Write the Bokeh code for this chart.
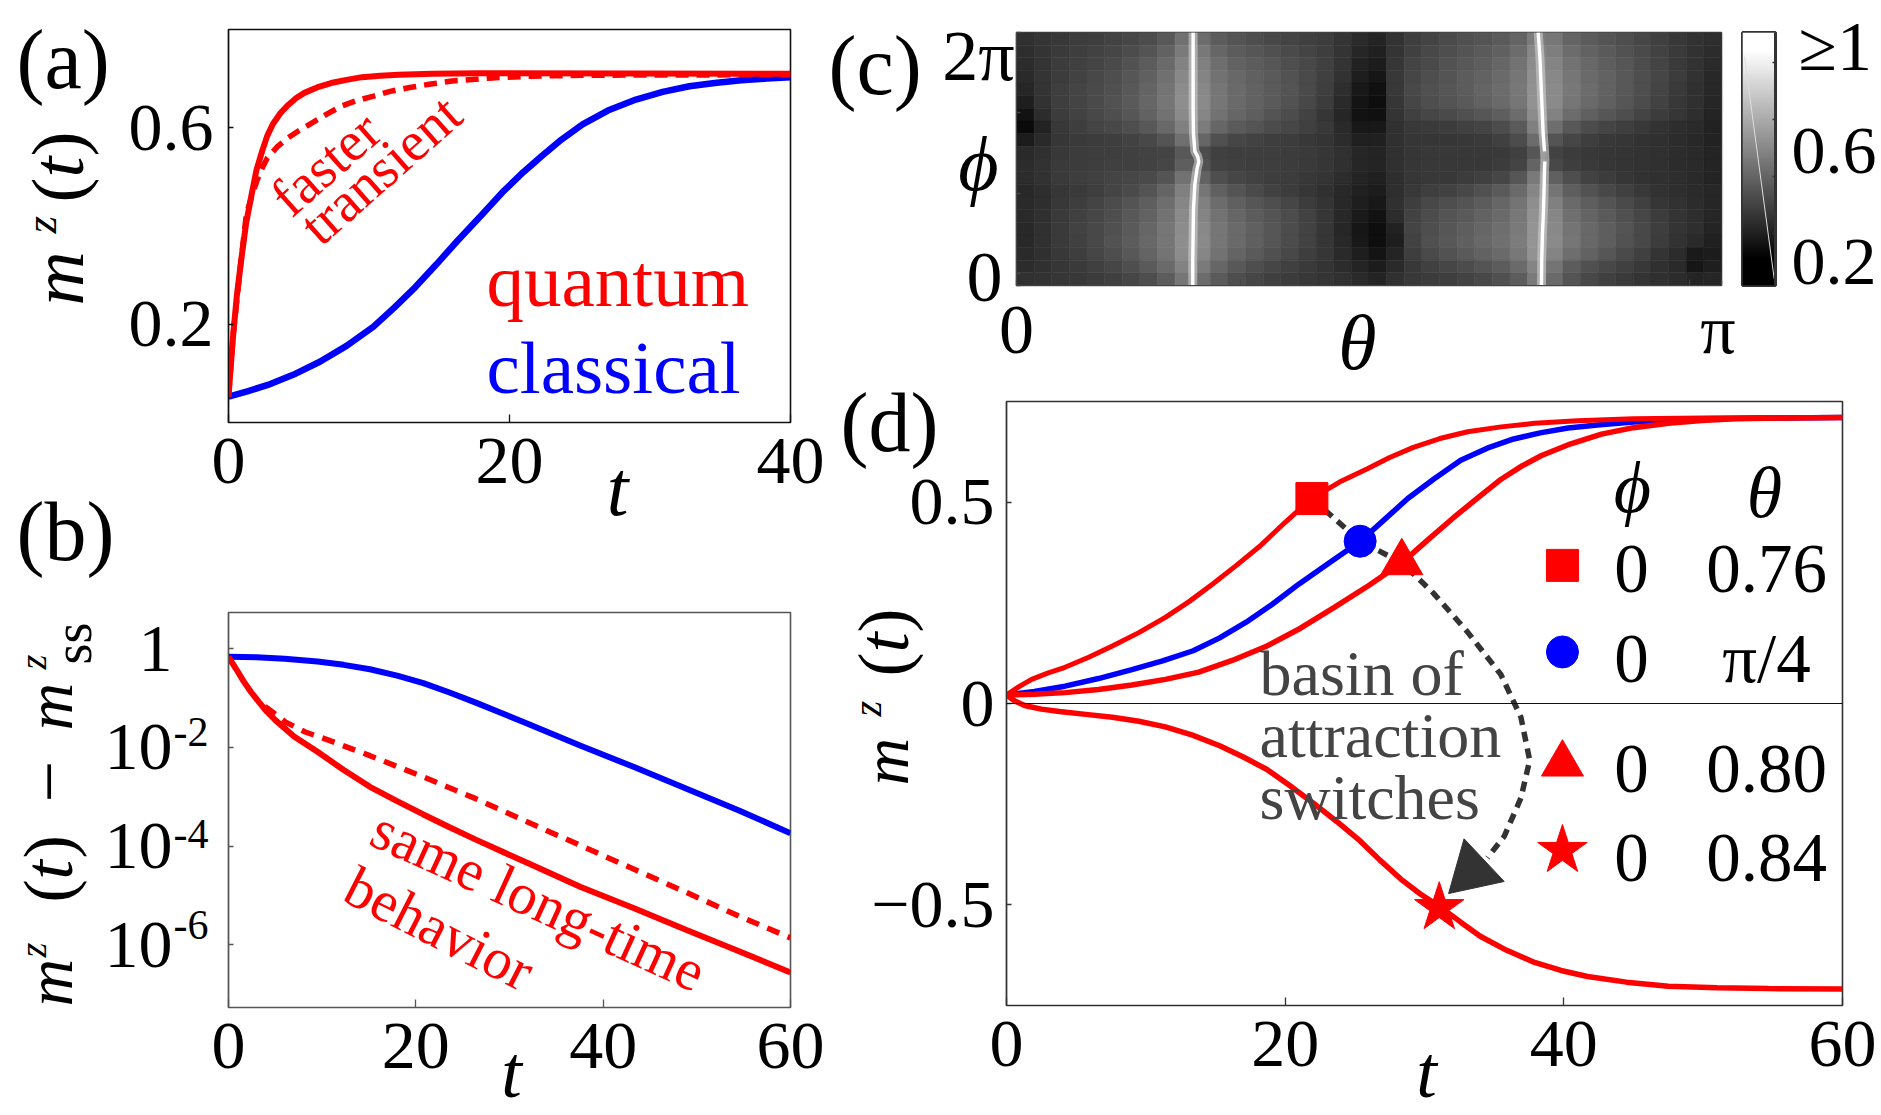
from bokeh.plotting import figure
from bokeh.layouts import row, column
from bokeh.models import Range1d, FixedTicker, Label, Span, LinearColorMapper, ColumnDataSource
from bokeh.embed import file_html
from bokeh.resources import INLINE
from bokeh.palettes import Greys256
import math
import numpy as np

RED = "#ff0000"; BLUE = "#0000ff"; SERIF = "Liberation Serif"

# panel (a)
a_red_t = [0, .15, .34, .6, .9, 1.25, 1.65, 2, 2.4, 2.75, 3.15, 3.7, 4.27, 4.8, 5.4, 6.3, 7.3, 8.3, 9.5, 10.8, 12.1, 14.5, 17.8, 40]
a_red_y = [.0527, .11, .181, .26, .330, .405, .465, .515, .553, .583, .607, .630, .647, .66, .671, .682, .691, .697, .703, .706, .708, .710, .711, .710]
a_dash_t = [0, .34, .9, 1.27, 1.65, 2.02, 2.4, 2.77, 3.5, 4.27, 5, 5.77, 6.9, 8.02, 9.1, 10.27, 11.5, 12.9, 14.4, 15.9, 18.5, 21.5, 26, 40]
a_dash_y = [.0527, .181, .330, .424, .46, .492, .518, .539, .562, .580, .594, .607, .626, .644, .655, .664, .674, .682, .689, .695, .701, .705, .707, .708]
a_blue_t = [0, 1.4, 2.8, 4.6, 6.5, 8.4, 10.3, 11.8, 13.3, 14.8, 16.3, 18, 19.6, 21, 22.3, 23.7, 25.2, 27, 29, 30.9, 32.8, 34.6, 36.5, 38.3, 40]
a_blue_y = [.0527, .064, .0764, .097, .1236, .156, .1946, .234, .2757, .322, .370, .422, .4716, .510, .5426, .576, .6068, .635, .6574, .673, .6845, .691, .6966, .700, .7027]

# panel (b): decades
b_blue_t = [0, 3, 6, 9.5, 12.3, 15.1, 18, 20.8, 23.6, 26.4, 29.2, 32, 37.6, 43.3, 48.9, 54.5, 60]
b_blue_e = [-.167, -.175, -.205, -.262, -.33, -.42, -.55, -.70, -.89, -1.095, -1.31, -1.53, -1.97, -2.40, -2.84, -3.28, -3.74]
b_red_t = [0, .8, 1.6, 2.4, 3.3, 4.1, 5, 7, 9.5, 12.3, 15.1, 18, 20.8, 23.6, 26.4, 32, 37.6, 43.3, 48.9, 54.5, 60]
b_red_e = [-.167, -.41, -.66, -.88, -1.095, -1.28, -1.45, -1.78, -2.09, -2.46, -2.80, -3.09, -3.36, -3.62, -3.87, -4.35, -4.83, -5.26, -5.70, -6.13, -6.56]
b_dash_t = [3.9, 6.1, 8.2, 10.6, 15.1, 20.8, 26.4, 32, 37.6, 43.3, 48.9, 54.5, 60]
b_dash_e = [-1.17, -1.49, -1.69, -1.85, -2.17, -2.60, -3.04, -3.52, -3.99, -4.47, -4.94, -5.42, -5.86]

# panel (c): gray levels, top row first, 40 equal theta cells per row
c_gray = [
 [48,52,56,60,62,66,70,76,88,112,108,92,84,78,72,68,64,60,52,42,36,50,62,68,74,80,84,90,100,125,118,100,92,84,78,70,64,56,50,46],
 [46,52,58,62,66,70,76,84,98,122,120,102,92,86,80,74,68,62,52,38,32,52,64,72,78,84,90,96,108,135,126,108,98,90,82,74,66,58,50,44],
 [44,52,60,64,68,74,82,92,106,130,128,110,98,92,86,78,72,64,52,34,28,54,68,74,82,88,94,102,114,140,132,114,104,94,86,76,68,58,50,42],
 [42,52,60,66,72,78,86,96,112,136,132,114,104,96,90,82,74,64,50,30,22,56,70,78,84,92,98,106,118,144,136,118,106,98,88,78,70,60,50,40],
 [38,52,62,68,74,80,88,100,116,140,136,118,106,98,90,84,74,62,46,24,16,56,72,80,86,92,100,108,120,146,138,120,108,98,88,78,68,58,48,40],
 [30,50,62,68,74,82,90,102,118,142,138,118,106,98,90,82,72,60,42,20,14,54,70,78,84,90,98,106,118,146,138,118,106,96,86,76,66,56,48,38],
 [18,44,60,66,72,78,86,98,114,138,134,114,102,94,84,76,66,54,38,18,16,52,64,70,74,80,86,94,108,140,130,108,96,86,78,68,60,54,46,36],
 [10,34,56,62,68,72,78,88,104,128,124,102,90,84,76,70,64,56,42,24,24,48,56,58,60,64,68,76,90,128,110,88,76,68,62,56,50,46,42,34],
 [28,42,54,58,60,62,66,72,84,112,102,80,70,66,62,60,56,52,44,32,32,48,54,54,54,56,58,64,76,108,84,70,62,56,54,50,48,44,40,34],
 [42,48,56,60,62,62,64,66,68,88,76,64,62,62,62,60,58,54,48,38,36,48,54,56,56,56,56,58,64,86,66,60,56,54,52,50,48,44,42,36],
 [44,50,58,60,62,64,64,66,70,94,82,66,64,62,62,60,58,54,48,38,36,48,54,56,56,56,56,60,68,100,72,62,58,54,52,50,48,44,42,36],
 [44,50,58,62,64,68,70,74,84,114,98,78,70,66,62,60,56,52,44,36,32,46,54,56,56,60,64,70,86,122,96,78,66,60,54,50,48,46,42,36],
 [40,46,54,58,62,68,74,84,100,128,118,96,84,74,66,60,54,48,40,32,28,46,56,62,66,72,80,90,106,134,116,94,82,72,64,56,50,46,42,38],
 [42,46,56,62,68,76,84,94,110,134,128,108,96,86,78,70,60,52,40,30,24,48,62,72,78,84,92,102,116,142,128,106,94,84,74,64,54,50,44,38],
 [42,48,58,64,70,78,88,98,114,138,132,114,102,92,84,76,66,54,40,26,18,44,66,76,84,90,98,106,120,146,134,112,100,90,80,70,60,52,46,38],
 [40,48,58,66,72,80,90,102,118,140,136,118,106,96,86,76,66,54,38,22,14,34,68,78,86,94,102,110,122,148,136,116,104,94,84,72,62,52,46,36],
 [40,48,58,64,72,82,92,104,118,142,138,118,106,96,86,76,66,54,40,24,14,30,66,80,88,96,104,112,124,148,138,118,104,94,82,72,60,50,42,32],
 [42,48,56,62,70,78,88,100,116,140,134,114,100,90,80,72,62,54,42,30,20,36,62,74,82,90,98,106,120,146,132,110,98,86,74,64,52,44,26,28],
 [44,48,54,58,64,70,78,90,106,130,122,102,88,78,70,64,58,52,44,36,28,42,56,64,70,76,84,92,106,132,116,92,80,72,64,56,48,42,22,30],
 [48,50,54,56,60,64,70,78,92,118,108,90,78,70,64,60,56,52,48,42,36,48,56,60,62,66,72,80,92,122,106,84,72,64,58,52,48,44,36,38],
]
ridge_phi = [1.0, .9, .8, .7, .6, .53, .51, .49, .46, .4, .3, .2, .1, 0.0]
ridge1 = [.2505, .2505, .2505, .2505, .2510, .2530, .2570, .2585, .2560, .2530, .2510, .2505, .2500, .2500]
ridge2 = [.7400, .7425, .7440, .7455, .7470, .7490, .7493, .7495, .7490, .7485, .7475, .7460, .7450, .7446]
ridge2_core = [.7400, .7425, .7440, .7455, .7470, .7490, float("nan"), .7495, .7490, .7485, .7475, .7460, .7450, .7446]
cbar_levels = [[i / 255 * .9] for i in range(256)]
cbar_line_x = [.06, .96]
cbar_line_y = [.82, .04]

# panel (d)
d_sq_t = [0, .9, 1.8, 3, 4.2, 5.9, 7.6, 9.5, 11.4, 13.1, 14.8, 16.5, 18.2, 20, 21.9, 23.9, 25.9, 27.5, 29.2, 31.1, 33.1, 35.5, 37.9, 41, 45, 50, 60]
d_sq_y = [.021, .042, .06, .076, .09, .115, .143, .176, .214, .253, .297, .343, .391, .45, .509, .550, .583, .611, .636, .658, .675, .687, .696, .702, .707, .709, .71]
d_bl_t = [0, 2, 4.2, 6.6, 9, 11.2, 13.4, 15.3, 17.2, 19.1, 21, 23.2, 25.4, 27.1, 28.8, 30.7, 32.6, 34.5, 36.4, 38.3, 40.3, 42.6, 45, 47.5, 49.9, 54, 60]
d_bl_y = [.021, .03, .043, .062, .084, .106, .131, .163, .202, .247, .297, .35, .403, .456, .509, .558, .604, .634, .657, .672, .684, .692, .699, .703, .707, .709, .71]
d_tr_t = [0, 2, 4.2, 6.6, 9, 11.4, 13.8, 16.2, 18.7, 21.1, 23.5, 26, 28.4, 30.2, 32.1, 33.8, 35.5, 37, 38.4, 40.5, 42.7, 45, 47.5, 49.9, 52.3, 56, 60]
d_tr_y = [.021, .023, .027, .035, .046, .06, .078, .107, .143, .187, .238, .293, .35, .405, .462, .51, .557, .59, .616, .645, .669, .685, .696, .703, .707, .709, .71]
d_st_t = [0, .6, 1.3, 2.5, 3.8, 5.7, 7.6, 9.5, 11.4, 13.3, 15.3, 17, 18.7, 20.3, 22, 23.7, 25.4, 26.8, 28.3, 29.7, 31.2, 32.6, 34, 35.9, 37.9, 39.8, 41.7, 44.5, 47.5, 51, 54.7, 60]
d_st_y = [.021, .006, -.005, -.014, -.02, -.027, -.034, -.044, -.058, -.078, -.105, -.133, -.164, -.203, -.247, -.293, -.342, -.389, -.436, -.473, -.507, -.543, -.578, -.613, -.643, -.663, -.678, -.692, -.702, -.706, -.708, -.709]
mark_t = [21.92, 25.38, 28.37, 31.06]
mark_y = [.509, .403, .35, -.507]
leg_t = [39.9, 39.9, 39.9, 39.9]
leg_y = [.343, .128, -.15, -.365]
arrow_t = [21.92, 25.38, 28.37, 30.67, 33.08, 35.48, 36.92, 37.55, 36.92, 35.72, 34.52]
arrow_y = [.509, .403, .35, .273, .178, .072, -.034, -.141, -.235, -.33, -.383]
head_t = [32.84, 35.72, 31.73]
head_y = [-.336, -.442, -.472]
leg_phi = ["0", "0", "0", "0"]
leg_theta = ["0.76", "π/4", "0.80", "0.84"]


def make(ox, oy, W, H, fx0, fx1, fy0, fy1, xr, yr, edge, **kw):
    p = figure(width=W, height=H, x_range=xr, y_range=yr, output_backend="svg", toolbar_location=None,
               min_border_left=fx0 - ox, min_border_right=ox + W - fx1,
               min_border_top=fy0 - oy, min_border_bottom=oy + H - fy1,
               background_fill_color="white", border_fill_color="white", **kw)
    p.grid.visible = False
    p.outline_line_color = edge
    p.outline_line_width = 1.6
    for ax in p.axis:
        ax.axis_line_color = edge
        ax.axis_line_width = 1.2
        ax.major_tick_out = 0
        ax.major_tick_line_color = edge
        ax.major_tick_line_width = 1.3
        ax.minor_tick_line_color = None
        ax.major_label_text_font = SERIF
        ax.major_label_text_font_size = "68px"
        ax.major_label_text_color = "black"
    return p


# transparent sheet over the whole page; all free text sits on it in page pixels
PW, PH = 1879, 1113
over = figure(width=PW, height=PH, x_range=Range1d(0, PW), y_range=Range1d(PH, 0), output_backend="svg",
              toolbar_location=None, x_axis_location=None, y_axis_location=None, min_border=0,
              background_fill_color=None, border_fill_color=None, outline_line_color=None)
over.grid.visible = False
over.margin = (-1115, 0, 0, 0)


def lab(x, y, text, size=66, color="black", style="normal", align="center", base="middle", angle=0):
    if base == "alphabetic":
        # the renderer sets this baseline about a third of an em low
        if angle == 90:
            x -= .33 * size
        else:
            y -= .33 * size
    over.add_layout(Label(x=x, y=y, text=text, text_font=SERIF, text_font_size=f"{size}px", text_color=color,
                          text_font_style=style, text_align=align, text_baseline=base, angle=angle, angle_units="deg"))


def vlabel(pieces):
    for x, y, text, size, style in pieces:
        lab(x, y, text, size=size, style=style, align="left", base="alphabetic", angle=90)


# ---------- (a)
a = make(0, 0, 824, 565, 226, 790, 29, 422, Range1d(0, 40), Range1d(0, .8), "#111111")
a.yaxis.ticker = FixedTicker(ticks=[.2, .6]); a.xaxis.ticker = FixedTicker(ticks=[0, 20, 40])
a.yaxis.major_tick_in = 5; a.xaxis.major_tick_in = 8
a.yaxis.major_label_standoff = 15; a.xaxis.major_label_standoff = 16
a.line(a_blue_t, a_blue_y, color=BLUE, line_width=6.5)
a.line(a_dash_t, a_dash_y, color=RED, line_width=5.5, line_dash="13 8")
a.line(a_red_t, a_red_y, color=RED, line_width=6)
lab(16, 59, "(a)", size=84, align="left")
lab(16, 531, "(b)", size=84, align="left")
lab(486, 305, "quantum", size=75, color=RED, align="left", base="alphabetic")
lab(486, 392, "classical", size=75, color=BLUE, align="left", base="alphabetic")
lab(325, 163, "faster", size=56, color=RED, angle=41.5)
lab(380, 169, "transient", size=56, color=RED, angle=41.5)
lab(617, 488, "t", size=78, style="italic")
vlabel([(82, 305, "m", 75, "italic"), (55, 233, "z", 45, "italic"), (82, 202, "(", 75, "normal"),
        (82, 177, "t", 75, "italic"), (82, 156, ")", 75, "normal")])

# ---------- (b)
b = make(0, 565, 824, 550, 228, 792, 612, 1007, Range1d(0, 60), Range1d(10 ** -7.27, 10 ** .73), "#555555", y_axis_type="log")
b.xaxis.ticker = FixedTicker(ticks=[0, 20, 40, 60])
b.yaxis.ticker = FixedTicker(ticks=[1, 1e-2, 1e-4, 1e-6])
b.yaxis.major_label_overrides = {1: "1", 1e-2: "10", 1e-4: "10", 1e-6: "10"}
b.yaxis.major_tick_in = 5; b.xaxis.major_tick_in = 8
b.yaxis.major_label_standoff = 56; b.xaxis.major_label_standoff = 16
b.line(b_blue_t, [10 ** e for e in b_blue_e], color=BLUE, line_width=6)
b.line(b_dash_t, [10 ** e for e in b_dash_e], color=RED, line_width=5.5, line_dash="13 9")
b.line(b_red_t, [10 ** e for e in b_red_e], color=RED, line_width=6)
for y, t in [(731, "-2"), (833, "-4"), (924, "-6")]:
    lab(173, y, t, size=42, align="left")
lab(538, 900, "same long-time", size=58, color=RED, angle=-24.5)
lab(439, 928, "behavior", size=58, color=RED, angle=-27)
lab(511, 1112, "t", size=74, style="italic", base="bottom")
vlabel([(71, 1006, "m", 66, "italic"), (45, 957, "z", 38, "italic"), (71, 902, "(", 70, "normal"),
        (71, 879, "t", 70, "italic"), (71, 858, ")", 70, "normal"), (73, 802, "−", 74, "normal"),
        (71, 730, "m", 66, "italic"), (45, 669, "z", 38, "italic"), (90, 664, "ss", 54, "normal")])

# ---------- (c)
c = make(824, 0, 911, 385, 1016, 1721, 32, 285, Range1d(0, math.pi), Range1d(0, 2 * math.pi), "#444444")
PI = math.pi
c.xaxis.ticker = FixedTicker(ticks=[0, 1, 2, 3, PI])
c.xaxis.major_label_overrides = {0: "0", 1: "", 2: "", 3: "", PI: "π"}
c.yaxis.ticker = FixedTicker(ticks=[0, .29, 2.29, 4.29, 2 * PI])
c.yaxis.major_label_overrides = {0: "", .29: "", 2.29: "", 4.29: "", 2 * PI: ""}
c.xaxis.major_tick_in = 6; c.yaxis.major_tick_in = 4
c.xaxis.major_label_standoff = 5
c.xaxis.major_label_text_font_size = "70px"
n_r, n_c = len(c_gray), len(c_gray[0])
src = dict(left=[], right=[], top=[], bottom=[], g=[])
for r, vals in enumerate(c_gray):
    for k, v in enumerate(vals):
        src["left"].append(k / n_c * PI); src["right"].append((k + 1) / n_c * PI)
        src["top"].append((1 - r / n_r) * 2 * PI); src["bottom"].append((1 - (r + 1) / n_r) * 2 * PI)
        src["g"].append(v)
gray_map = LinearColorMapper(palette=list(Greys256), low=0, high=255)
c.quad(left="left", right="right", top="top", bottom="bottom", source=ColumnDataSource(src),
       fill_color={"field": "g", "transform": gray_map}, line_color={"field": "g", "transform": gray_map}, line_width=.6)
ry = [v * 2 * PI for v in ridge_phi]
c.line([v * PI for v in ridge1], ry, color="#cfcfcf", line_width=9, line_alpha=.6)
c.line([v * PI for v in ridge2], ry, color="#cfcfcf", line_width=9, line_alpha=.6)
c.line([v * PI for v in ridge1], ry, color="#ffffff", line_width=3.4)
c.line([v * PI for v in ridge2_core], ry, color="#ffffff", line_width=3.4)
lab(1014, 55, "2π", size=72, align="right")
lab(984, 277, "0", size=72)
lab(978, 163, "ϕ", size=78, style="italic")
lab(1357, 342, "θ", size=78, style="italic")
lab(828, 65, "(c)", size=84, align="left")

# ---------- colour bar
cb = make(1735, 0, 146, 385, 1742, 1775, 32, 285, Range1d(0, 1), Range1d(.016, .905), "#333333", y_axis_location="right")
cb.xaxis.visible = False
cb.outline_line_width = 3
cb.yaxis.ticker = FixedTicker(ticks=[.2, .4, .6, .8])
cb.yaxis.major_label_overrides = {.2: "", .4: "", .6: "", .8: ""}
cb.yaxis.major_tick_in = 3; cb.yaxis.axis_line_width = 3
cb.image(image=[np.array(cbar_levels)], x=0, y=.016, dw=1, dh=.889,
         color_mapper=LinearColorMapper(palette=list(Greys256), low=.09, high=.84))
cb.line(cbar_line_x, cbar_line_y, color="#dddddd", line_width=1)
lab(1798, 46, "≥1", size=70, align="left")
lab(1791, 150, "0.6", size=68, align="left")
lab(1791, 261, "0.2", size=68, align="left")

# ---------- (d)
d = make(824, 385, 1057, 730, 1006, 1842, 401, 1005, Range1d(0, 60), Range1d(-.75, .75), "#333333")
d.xaxis.ticker = FixedTicker(ticks=[0, 20, 40, 60])
d.yaxis.ticker = FixedTicker(ticks=[-.5, 0, .5])
d.yaxis.major_label_overrides = {-.5: "−0.5", 0: "0", .5: "0.5"}
d.yaxis.major_tick_in = 5; d.xaxis.major_tick_in = 8
d.yaxis.major_label_standoff = 12; d.xaxis.major_label_standoff = 16
d.add_layout(Span(location=0, dimension="width", line_color="#111111", line_width=1.2))
d.line(d_bl_t, d_bl_y, color=BLUE, line_width=5.5)
d.line(d_sq_t, d_sq_y, color=RED, line_width=5)
d.line(d_tr_t, d_tr_y, color=RED, line_width=5.5)
d.line(d_st_t, d_st_y, color=RED, line_width=5.5)
d.line(arrow_t, arrow_y, color="#333333", line_width=5.5, line_dash="10 7")
d.patch(head_t, head_y, color="#333333")
msize = [32, 32, 42, 52]
mkind = ["square", "circle", "triangle", "star"]
mcol = [RED, BLUE, RED, RED]
for i in range(4):
    d.scatter([mark_t[i]], [mark_y[i]], marker=mkind[i], size=msize[i], color=mcol[i])
    d.scatter([leg_t[i]], [leg_y[i]], marker=mkind[i], size=msize[i], color=mcol[i])
lab(840, 422, "(d)", size=84, align="left")
lab(1632, 487, "ϕ", size=72, style="italic")
lab(1764, 492, "θ", size=72, style="italic")
for y, ph, th in zip([568, 658, 768, 857], leg_phi, leg_theta):
    lab(1631, y, ph, size=69)
    lab(1766, y, th, size=69)
for y, t in [(673, "basin of"), (735, "attraction"), (797, "switches")]:
    lab(1259, y, t, size=64, color="#444444", align="left")
lab(1426, 1112, "t", size=74, style="italic", base="bottom")
vlabel([(907, 785, "m", 66, "italic"), (880, 716, "z", 40, "italic"), (907, 676, "(", 72, "normal"),
        (907, 652, "t", 72, "italic"), (907, 632, ")", 72, "normal")])

layout = column(row(column(a, b), column(row(c, cb), d)), over)
open("out.html", "w").write(file_html(layout, INLINE))
